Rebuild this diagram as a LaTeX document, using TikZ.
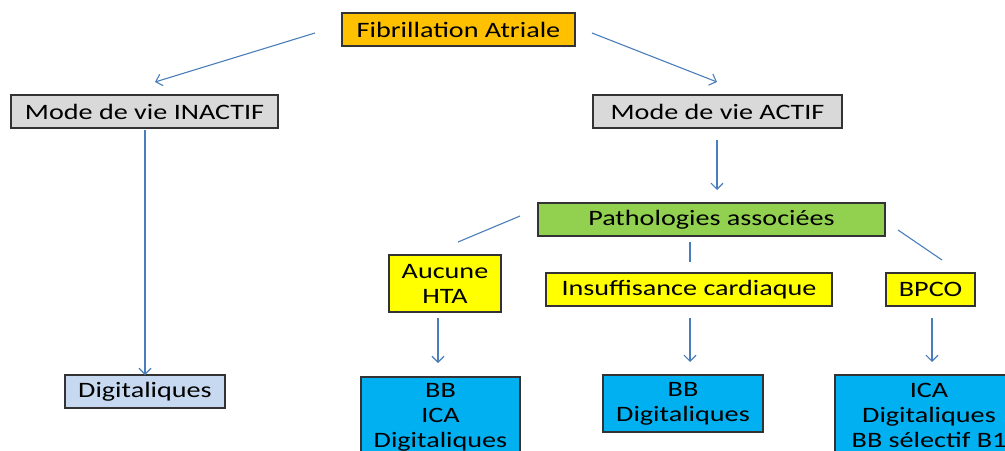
\documentclass[tikz,border=0pt]{standalone}
\usepackage{fontspec}
\setmainfont{Carlito}[FakeStretch=1.28]
\usepackage{tikz}
\usetikzlibrary{arrows.meta}
\definecolor{faorange}{HTML}{FFC000}
\definecolor{modegray}{HTML}{D9D9D9}
\definecolor{pathgreen}{HTML}{92D050}
\definecolor{pathyellow}{HTML}{FFFF00}
\definecolor{ttblue}{HTML}{00B0F0}
\definecolor{digblue}{HTML}{C6D9F1}
\definecolor{linkblue}{HTML}{4A7EBB}

\begin{document}
\begin{tikzpicture}[
        x=0.5pt, y=-0.5pt,
        box/.style={
            rectangle,
            draw=black!80,
            line width=0.6pt,
            inner sep=0pt,
            align=center,
            font=\fontsize{11}{12.5}\selectfont
        },
        link/.style={line width=0.55pt, draw=linkblue},
        arrow/.style={link, -{Straight Barb[length=3pt,width=6pt]}}
    ]
        \useasboundingbox (0,0) rectangle (1005,450);
        \clip (0,0) rectangle (1005,450);

        \node[box, fill=faorange, minimum width=116.5pt, minimum height=16.5pt] (fa) at (458.5,29.5) {Fibrillation Atriale};

        \node[box, fill=modegray, minimum width=133.5pt, minimum height=16.5pt] (inactif) at (144.5,111.5) {Mode de vie INACTIF};
        \node[box, fill=modegray, minimum width=124.5pt, minimum height=16.5pt] (actif) at (717.5,111.5) {Mode de vie ACTIF};

        \node[box, fill=pathgreen, minimum width=173.5pt, minimum height=16.5pt] (patho) at (711.5,219.5) {Pathologies associées};

        \node[box, fill=pathyellow, minimum width=56pt, minimum height=28.5pt] (aucune) at (445,283.5) {Aucune\\HTA};
        \node[box, fill=pathyellow, minimum width=143pt, minimum height=16.5pt] (insuff) at (689,289.5) {Insuffisance cardiaque};
        \node[box, fill=pathyellow, minimum width=44.5pt, minimum height=16.5pt] (bpco) at (930.5,289.5) {BPCO};

        \node[box, fill=digblue, minimum width=80pt, minimum height=16.5pt] (diginact) at (145,391.5) {Digitaliques};
        \node[box, fill=ttblue, minimum width=79.5pt, minimum height=40pt] (ttaucune) at (440.5,417) {BB\\ICA\\Digitaliques};
        \node[box, fill=ttblue, minimum width=80pt, minimum height=28.5pt] (ttinsuff) at (683,403.5) {BB\\Digitaliques};
        \node[box, fill=ttblue, minimum width=94pt, minimum height=40pt] (ttbpco) at (929,415) {ICA\\Digitaliques\\BB sélectif B1};

        % free ends of the connectors
        \coordinate (fa-l) at (315,33);
        \coordinate (inactif-t) at (155,82);
        \coordinate (fa-r) at (592,33);
        \coordinate (actif-t) at (717,82);
        \coordinate (inactif-b) at (145,130);
        \coordinate (diginact-t) at (145,375);
        \coordinate (actif-b) at (717,140);
        \coordinate (patho-t) at (717,190);
        \coordinate (patho-l) at (520,216);
        \coordinate (aucune-t) at (458,242);
        \coordinate (patho-b) at (690,242);
        \coordinate (insuff-t) at (690,262);
        \coordinate (patho-r) at (898,230);
        \coordinate (bpco-t) at (942,260);
        \coordinate (aucune-b) at (438,318);
        \coordinate (ttaucune-t) at (438,363);
        \coordinate (insuff-b) at (690,318);
        \coordinate (ttinsuff-t) at (690,362);
        \coordinate (bpco-b) at (932,318);
        \coordinate (ttbpco-t) at (932,362);

        \draw[arrow] (fa-l) -- (inactif-t);
        \draw[arrow] (fa-r) -- (actif-t);
        \draw[arrow] (inactif-b) -- (diginact-t);
        \draw[arrow] (actif-b) -- (patho-t);
        \draw[link] (patho-l) -- (aucune-t);
        \draw[link] (patho-b) -- (insuff-t);
        \draw[link] (patho-r) -- (bpco-t);
        \draw[arrow] (aucune-b) -- (ttaucune-t);
        \draw[arrow] (insuff-b) -- (ttinsuff-t);
        \draw[arrow] (bpco-b) -- (ttbpco-t);
    \end{tikzpicture}
\end{document}
